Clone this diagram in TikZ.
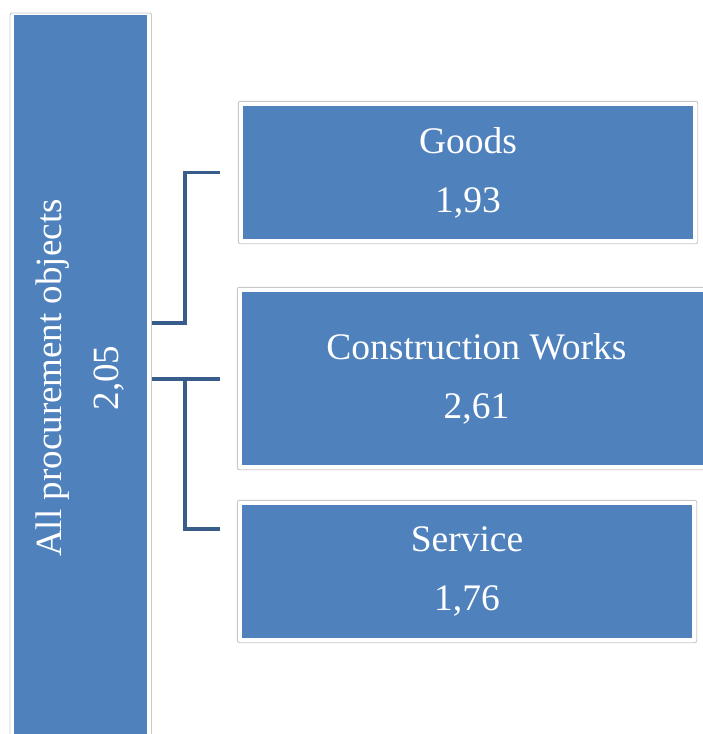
\documentclass[tikz,border=0pt]{standalone}
\usepackage{fontspec}
\setmainfont{Liberation Serif}
\usetikzlibrary{calc}
\definecolor{boxblue}{RGB}{79,129,189}
\definecolor{connblue}{RGB}{56,93,138}
\definecolor{framegrey}{RGB}{200,200,200}
\tikzset{
  catbox/.style={rectangle, fill=boxblue, draw=none, inner sep=0pt, text=white, align=center,
    font=\fontsize{37.5}{59}\selectfont},
  framebox/.style={draw=framegrey, line width=0.9pt, rounded corners=2pt},
  conn/.style={draw=connblue, line width=3.6pt, line cap=butt, line join=miter}
}
\begin{document}
\begin{tikzpicture}[x=1pt,y=-1pt]
\clip (0,0) rectangle (703,734);
\fill[white] (0,0) rectangle (703,734);
% left box
\draw[framebox] (10,13) rectangle (151.5,780);
\node[catbox, rotate=90, minimum width=726pt, minimum height=133pt,
  font=\fontsize{37}{57}\selectfont] (all) at (80.5,378) {All procurement objects\\2,05};
% right boxes
\node[catbox, minimum width=450pt, minimum height=133pt] (goods) at (468,172.5) {Goods\\1,93};
\node[catbox, minimum width=469pt, minimum height=173pt] (works) at (476.5,378.5) {Construction Works\\2,61};
\node[catbox, minimum width=450pt, minimum height=133pt] (service) at (467,571.5) {Service\\1,76};
\foreach \n in {goods,works,service}{
  \draw[framebox] ($(\n.north west)+(-4.5,-4.5)$) rectangle ($(\n.south east)+(4.5,4.5)$);
}
% junction coordinates
\coordinate (g1) at (152,323);
\coordinate (g2) at ($(goods.west)+(-23,0)$);
\coordinate (w1) at (152,379);
\coordinate (w2) at ($(works.west)+(-22,0)$);
\coordinate (s2) at (220,529);
% connectors
\draw[conn] (g1) -- (185,323) |- (g2);
\draw[conn] (w1) -- (w2 |- w1);
\draw[conn] (185,379) |- (s2);
\end{tikzpicture}
\end{document}
